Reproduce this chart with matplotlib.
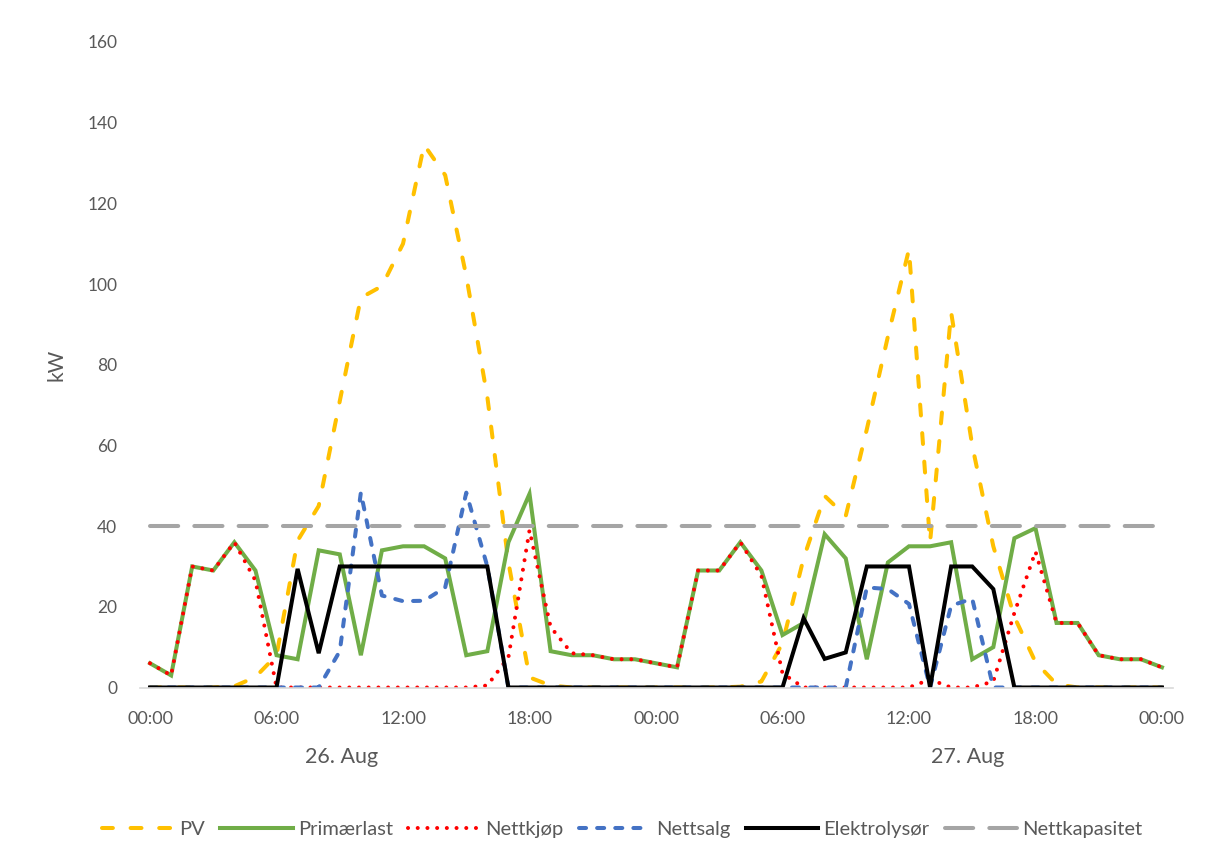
import matplotlib
matplotlib.use("Agg")
import matplotlib.pyplot as plt
from matplotlib.transforms import blended_transform_factory

# hourly values over two days, 00:00 26 Aug to 00:00 28 Aug
hours = list(range(49))

pv = [0, 0, 0, 0, 0.3, 2.6, 8, 36.4, 45, 71, 96.6, 99.5, 110, 134.5, 127, 102,
      72, 31, 2.5, 0.5, 0, 0, 0, 0, 0, 0, 0, 0, 0.2, 1.5, 11, 32, 47.5, 42.5,
      64, 87, 108.6, 36, 93, 60, 35, 17.5, 6.3, 0.8, 0, 0, 0, 0, 0]
primaerlast = [6, 3, 30, 29, 36, 29, 8, 7, 34, 33, 8, 34, 35, 35, 32, 8,
               9, 36, 48, 9, 8, 8, 7, 7, 6, 5, 29, 29, 36, 29, 13, 16, 38, 32,
               7, 31, 35, 35, 36, 7, 10, 37, 39.5, 16, 16, 8, 7, 7, 5]
nettkjop = [6, 3, 30, 29, 36, 26.5, 0, 0, 0, 0, 0, 0, 0, 0, 0, 0,
            0.5, 7.5, 39, 15, 8.5, 8, 7, 7, 6, 5, 29, 29, 36, 27.7, 3.5, 0, 0, 0,
            0, 0, 0, 2, 0, 0, 1.5, 18.5, 33.7, 16, 16, 8, 7, 7, 5]
nettsalg = [0, 0, 0, 0, 0, 0, 0, 0, 0, 9, 48.3, 22.8, 21.4, 21.5, 24.8, 48.3,
            30, 0, 0, 0, 0, 0, 0, 0, 0, 0, 0, 0, 0, 0, 0, 0, 0, 0,
            24.8, 24.4, 20.7, 0, 20.3, 22, 0, 0, 0, 0, 0, 0, 0, 0, 0]
elektrolysor = [0, 0, 0, 0, 0, 0, 0, 29.4, 8.5, 30, 30, 30, 30, 30, 30, 30,
                30, 0, 0, 0, 0, 0, 0, 0, 0, 0, 0, 0, 0, 0, 0, 17.2, 7.1, 8.7,
                30, 30, 30, 0, 30, 30, 24.4, 0, 0, 0, 0, 0, 0, 0, 0]
nettkapasitet = [40] * 49

tick_hours = [0, 6, 12, 18, 24, 30, 36, 42, 48]
tick_labels = ["00:00", "06:00", "12:00", "18:00", "00:00",
               "06:00", "12:00", "18:00", "00:00"]
day_labels = ["26. Aug", "27. Aug"]
day_pos = [9.1, 38.8]

plt.rcParams["font.family"] = ["Lato", "DejaVu Sans"]
text_col = "#595959"
W, H = 1212, 861

fig = plt.figure(figsize=(W / 100, H / 100), dpi=100)
ax = fig.add_axes([139.5 / W, 1 - 687.5 / H, 1033 / W, 645.5 / H])

lw = 2.9
ax.plot(hours, pv, color="#FFC000", lw=lw, ls=(0, (2.7, 4.4)),
        dash_capstyle="round", label="PV")
ax.plot(hours, primaerlast, color="#70AD47", lw=lw,
        solid_joinstyle="miter", label="Primærlast")
ax.plot(hours, nettkjop, color="#FF0000", lw=lw, ls=(0, (0.01, 2.4)),
        dash_capstyle="round", label="Nettkjøp")
ax.plot(hours, nettsalg, color="#4472C4", lw=lw, ls=(0, (1.75, 2.75)),
        dash_capstyle="round", label="Nettsalg")
ax.plot(hours, elektrolysor, color="black", lw=lw,
        solid_joinstyle="miter", label="Elektrolysør")
ax.plot(hours, nettkapasitet, color="#A5A5A5", lw=lw, ls=(0, (7, 4)),
        dash_capstyle="round", label="Nettkapasitet")

ax.set_xlim(-0.5, 48.5)
ax.set_ylim(0, 160)
ax.set_yticks(range(0, 161, 20))
ax.set_xticks(tick_hours)
ax.set_xticklabels(tick_labels)
ax.tick_params(axis="both", length=0, labelcolor=text_col)
ax.tick_params(axis="x", pad=17, labelsize=13)
ax.tick_params(axis="y", pad=16, labelsize=12.5)

for side in ["left", "right", "top"]:
    ax.spines[side].set_visible(False)
ax.spines["bottom"].set_color("#D9D9D9")
ax.spines["bottom"].set_linewidth(1.2)

trans = blended_transform_factory(ax.transData, fig.transFigure)
for x, lab in zip(day_pos, day_labels):
    ax.text(x, 1 - 757 / H, lab, transform=trans, ha="center", va="center",
            fontsize=15.5, color=text_col)

fig.text(57 / W, 1 - 365 / H, "kW", rotation=90, ha="center", va="center",
         fontsize=15, color=text_col)

leg = fig.legend(loc="center", bbox_to_anchor=(622 / W, 1 - 829 / H), ncol=6,
                 frameon=False, fontsize=14.5, handlelength=3.6,
                 handletextpad=0.25, columnspacing=0.75)
for t in leg.get_texts():
    t.set_color(text_col)

fig.savefig("out.png", dpi=100)
